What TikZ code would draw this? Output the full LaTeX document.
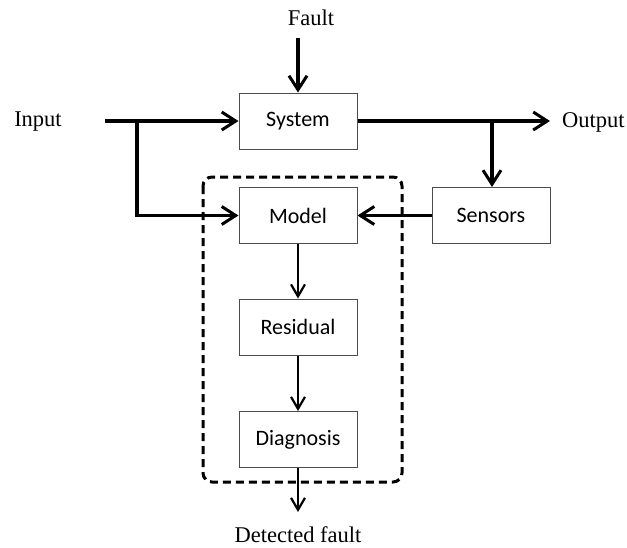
\documentclass[tikz,border=0pt]{standalone}
\usepackage{fontspec}
\setmainfont{Liberation Serif}
\newfontfamily\boxfont{Carlito}
\usetikzlibrary{arrows.meta}
\begin{document}
\begin{tikzpicture}[x=1pt,y=-1pt,
  block/.style={draw=black!70,line width=1pt,minimum width=118pt,minimum height=56pt,
    inner sep=0pt,font=\boxfont\fontsize{22}{24}\selectfont},
  label/.style={inner sep=0pt,font=\fontsize{22.5}{25}\selectfont},
  thick arrow/.style={line width=3.3pt,-{Straight Barb[length=14pt,width=18pt,line width=3pt]}},
  thin arrow/.style={line width=2pt,-{Straight Barb[length=12pt,width=14pt,line width=2.2pt]}},
  group/.style={draw,line width=3pt,dash pattern=on 8pt off 5pt,rounded corners=9pt}]
\useasboundingbox (0,0) rectangle (627,547);

% processing chain
\node[block] (system) at (298,121) {System};
\node[block] (model) at (298,215.5) {Model};
\node[block] (sensors) at (491,215.5) {Sensors};
\node[block] (residual) at (298,327) {Residual};
\node[block] (diagnosis) at (298,439.5) {Diagnosis};

% fault detection unit
\draw[group] (203,177) rectangle (402,482);

% external signals
\node[label] (fault) at (311,18) {Fault};
\node[label] (input) at (38,122) {Input};
\node[label,anchor=west] (output) at (562,122) {Output};
\node[label] (detected) at (298,535) {Detected fault};

\coordinate (faultin) at (298,38);
\coordinate (inS) at (105,121);
\coordinate (inB) at (137,121);
\coordinate (outE) at (550,121);
\coordinate (outB) at (492,121);
\coordinate (detend) at (298,512);

\draw[thick arrow] (faultin) -- (system.north);
\draw[thick arrow] (inS) -- (system.west);
\draw[thick arrow] (inB) |- (model.west);
\draw[thick arrow] (system.east) -- (outE);
\draw[thick arrow] (outB) -- (outB |- sensors.north);
\draw[thick arrow] (sensors.west) -- (model.east);

\draw[thin arrow] (model.south) -- (residual.north);
\draw[thin arrow] (residual.south) -- (diagnosis.north);
\draw[thin arrow] (diagnosis.south) -- (detend);
\end{tikzpicture}
\end{document}
